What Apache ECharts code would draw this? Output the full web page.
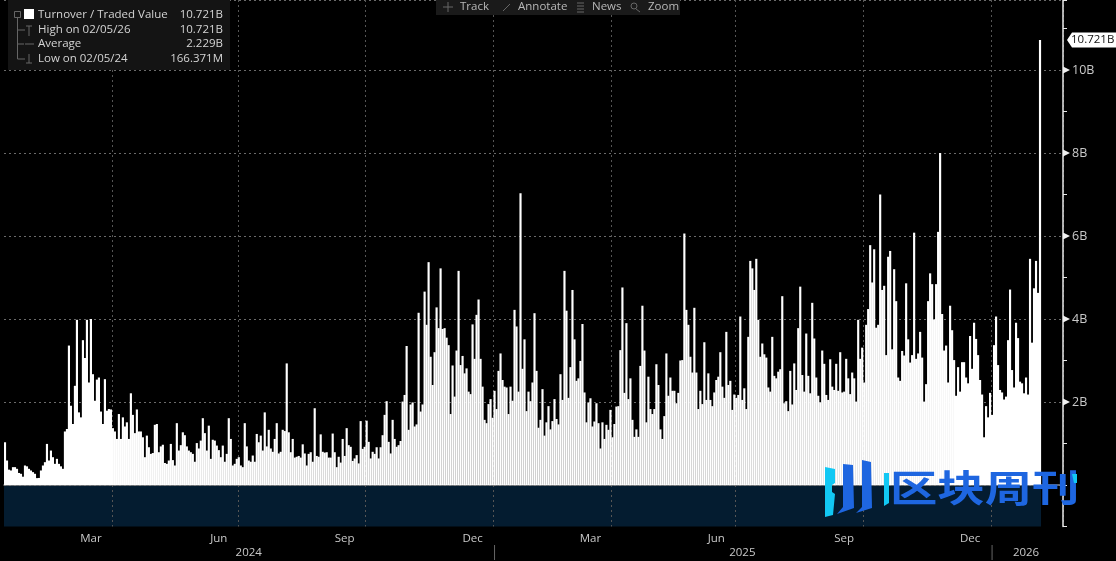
<!DOCTYPE html>
<html>
<head>
<meta charset="utf-8">
<title>Turnover / Traded Value</title>
<style>
  html, body { margin: 0; padding: 0; background: #000; }
  #chart { width: 1116px; height: 561px; }
</style>
<script src="https://cdn.jsdelivr.net/npm/echarts@6/dist/echarts.min.js"></script>
</head>
<body>
<div id="chart"></div>
<script>
// daily turnover in billions left to right
const turnover2024a = [1.03,.59,.37,.35,.43,.43,.39,.29,.27,.2,.47,.45,.39,.35,.31,.27,.166,.17,.35,.47,.55,.99,.59,.83,.67,.51,.63,.51,.45,.39,1.29,1.35,3.36,1.91,1.47,2.39,3.98,1.75,1.63,3.49,3.06,3.98,2.47,4.0,2.67,2.03,2.54,2.59,1.77,1.47,2.55,1.79,1.83,1.82,1.37,1.29,1.11,1.71,1.11,1.63,1.41,1.51,1.11,2.21,1.69,1.25,1.82,1.29,1.29,1.15,.67,1.19,.91,.75,.77,1.45,1.47,.79,.93,.97,.53,.51,.59,.99,.6,.47,1.49,.83,.96,1.27,1.2,.93,.83,.79,.75,.56,1.01,.88,1.07,1.61,1.25,.83,1.43,.63,1.09,1.07,.95,.84,.67,.95,.56,.75,1.61,1.11,.47,.51,.63,.67,.47,.43,1.49,.93,.59,.56,.71,.56,1.23,1.03,1.19,.83,1.75,.93,1.33];
const turnover2024b = [.88,.8,1.11,1.49,.76,.8,1.33,1.3,2.93,1.27,.79,1.11,.66,.68,.7,.66,.98,.76,.47,.75,.79,.56,1.85,.7,.68,1.22,.8,.78,.79,.66,.66,1.24,.79,.43,.68,.54,1.11,.7,1.37,.96,.92,.58,.64,.72,.52,1.54,.87,.92,1.55,1.04,.64,.8,.75,.91,.64,.91,1.2,1.69,2.02,1.04,.76,1.57,1.11,.92,.96,1.06,2.01,2.17,3.35,1.33,1.94,1.99,1.41,1.46,4.15,1.77,1.94,4.66,3.86,5.37,3.09,2.41,3.2,4.28,3.78,5.22,3.76,3.78,3.55,3.37,1.71,2.88,2.13,3.24,5.16,2.89,3.11,2.69,2.81,2.25,2.19,3.87,3.04,4.1,4.47,3.04,2.37,1.57,1.49,1.95,2.07,1.62,2.27,1.83,2.75,3.17,2.53,2.37,2.35,1.71,2.37,2.03,4.22,3.82,2.25,7.03,2.8,3.51,1.78,2.25];
const turnover2025a = [2.02,2.47,4.14,2.75,1.38,1.57,2.31,1.19,1.51,1.9,1.34,1.54,2.07,1.59,1.46,2.67,2.05,5.16,4.2,2.1,2.84,4.7,3.51,2.51,2.57,2.99,3.88,2.23,1.51,1.99,2.09,1.41,1.53,1.97,1.49,.88,1.51,1.11,1.45,1.33,1.81,1.15,1.47,1.89,1.9,3.25,4.76,2.22,3.9,2.07,2.57,1.57,1.16,1.34,1.16,2.87,4.32,3.24,1.51,2.61,1.83,1.71,1.83,2.91,2.41,1.34,1.11,1.66,3.17,2.15,2.59,2.27,2.27,1.97,2.22,3.0,3.01,6.06,4.22,3.86,3.09,2.71,4.27,2.71,1.83,2.27,1.95,3.44,2.05,2.69,2.05,1.9,2.23,2.53,2.61,3.2,2.37,2.1,3.69,2.41,2.51,1.81,2.18,2.1,2.17,4.06,2.05,2.33,1.83,3.57,5.4,5.22,4.7,5.45,3.98,3.09,3.41,3.15,3.07,2.35,2.25,3.57,2.63,2.57,2.73,2.79,4.55,1.97,2.02,1.78];
const turnover2025b = [2.75,1.94,2.93,2.29,3.78,4.78,2.65,2.25,3.65,2.63,2.21,4.39,3.53,2.59,2.15,1.99,3.24,2.92,2.17,2.05,3.03,2.37,2.29,2.92,2.27,3.2,2.23,2.25,3.04,2.57,2.19,2.71,2.57,2.01,3.98,3.04,3.31,2.47,3.86,4.24,5.78,4.88,5.68,3.79,3.86,7.0,4.7,4.8,3.13,5.5,5.64,3.27,5.2,4.43,2.59,2.51,3.23,3.12,4.86,3.51,2.95,3.13,6.08,3.04,3.17,3.69,3.07,2.01,2.43,4.43,5.1,4.84,3.99,4.84,6.1,8.0,4.12,3.24,3.36,2.47,4.32,3.73,3.01,2.15,2.84,2.25,2.96,2.96,2.59,2.45,3.59,2.8,3.91,3.52,3.13,2.53,2.18,1.15,1.9,1.63,2.22,1.69,3.37,4.06,2.89,2.29,2.23,2.06,2.13,3.49,4.71,2.77,2.35,3.91,3.54,2.49,2.45,2.21,2.59,2.18,5.45,3.43,4.74,5.4,4.63,10.721];
const turnover = [].concat(turnover2024a, turnover2024b, turnover2025a, turnover2025b);

// where things fall on the trading day axis
const monthStarts = [14,34,54,76,97,117,140,160,181,204,224,245,265,284,304,325,345,366,390,410,430,454,473,494,514];
const quarterStarts = [54,117,181,245,304,366,430,494];
const quarterLabels = { 43: 'Mar', 107: 'Jun', 170: 'Sep', 234: 'Dec', 293: 'Mar', 356: 'Jun', 420: 'Sep', 483: 'Dec' };
const yearLabels = { 122: '2024', 369: '2025', 511: '2026' };
const yearBreaks = [245, 494];
const majorTicks = [2, 4, 6, 8, 10];

const legendRows = [
  ['Turnover / Traded Value', '10.721B'],
  ['High on 02/05/26', '10.721B'],
  ['Average', '2.229B'],
  ['Low on 02/05/24', '166.371M']
];
const toolbarItems = ['Track', 'Annotate', 'News', 'Zoom'];

const BANDS = 530;
const categories = [];
for (let i = 0; i < BANDS; i++) categories.push(String(i));

const FONT = '"Open Sans", "Noto Sans", sans-serif';
const TXT = '#c9c9c9';

var chart = echarts.init(document.getElementById('chart'), null, { renderer: 'canvas' });

var option = {
  backgroundColor: '#000',
  animation: false,
  grid: { left: 4, right: 53, top: 0, bottom: 34.5 },
  xAxis: [
    {
      type: 'category',
      data: categories,
      axisLine: { lineStyle: { color: '#8c8c8c', width: 1.5 } },
      axisTick: {
        alignWithLabel: true, length: 3, lineStyle: { color: '#8c8c8c' },
        interval: function (i) { return monthStarts.indexOf(i) >= 0; }
      },
      axisLabel: {
        color: TXT, fontFamily: FONT, fontSize: 11.5, margin: 6,
        interval: function (i) { return quarterLabels[i] !== undefined; },
        formatter: function (v, i) { return quarterLabels[i] || ''; }
      },
      splitLine: {
        show: true,
        lineStyle: { color: '#555', type: [2, 3], width: 1 },
        interval: function (i) { return quarterStarts.indexOf(i) >= 0; }
      }
    },
    {
      type: 'category',
      data: categories,
      position: 'bottom',
      offset: 17,
      axisLine: { show: false },
      axisTick: { show: false },
      axisLabel: {
        color: TXT, fontFamily: FONT, fontSize: 11.5, margin: 3,
        interval: function (i) { return yearLabels[i] !== undefined; },
        formatter: function (v, i) { return yearLabels[i] || ''; }
      }
    }
  ],
  yAxis: {
    type: 'value',
    position: 'right',
    min: -1,
    max: 11.687,
    interval: 1,
    axisLine: { show: true, onZero: false, lineStyle: { color: '#e8e8e8', width: 1.5 } },
    axisTick: { show: true, length: 4, lineStyle: { color: '#e8e8e8' } },
    axisLabel: {
      color: TXT, fontFamily: FONT, fontSize: 12.5, margin: 9, padding: [3, 0, 0, 0],
      formatter: function (v) { return majorTicks.indexOf(v) >= 0 ? v + 'B' : ''; }
    },
    splitLine: {
      show: true,
      lineStyle: { color: ['rgba(0,0,0,0)', '#6a6a6a'], type: [2, 3], width: 1 }
    }
  },
  series: [
    {
      type: 'bar',
      data: turnover,
      barWidth: 2.15,
      itemStyle: { color: '#fff' }
    }
  ]
};
chart.setOption(option);

function onTop(kids) {
  kids.forEach(function (k) { k.z = 100; });
  return { type: 'group', children: kids };
}

// legend box, toolbar, price flag and the watermark are overlays
function legendBox() {
  var kids = [{ type: 'rect', shape: { x: 8, y: 0, width: 222, height: 70 }, style: { fill: '#141414' } }];
  var rowY = [15, 30, 44, 59];
  var grey = { stroke: '#666', lineWidth: 1 };
  [[17.5, 18, 17.5, 59], [17.5, 30, 25, 30], [17.5, 44, 24, 44], [17.5, 59, 25, 59], [29, 26, 29, 36], [26, 26, 32, 26], [25, 44, 34, 44], [29, 54, 29, 63], [26, 63, 32, 63]].forEach(function (l) {
    kids.push({ type: 'line', shape: { x1: l[0], y1: l[1], x2: l[2], y2: l[3] }, style: grey });
  });
  kids.push({ type: 'rect', shape: { x: 24, y: 9, width: 10, height: 10 }, style: { fill: '#fff' } });
  kids.push({ type: 'rect', shape: { x: 14.5, y: 11.5, width: 6, height: 6 }, style: { fill: '#141414', stroke: '#666' } });
  legendRows.forEach(function (row, i) {
    kids.push({ type: 'text', style: { x: 38, y: rowY[i], text: row[0], fill: '#d4d4d4', font: '11.5px ' + FONT, verticalAlign: 'middle' } });
    kids.push({ type: 'text', style: { x: 223, y: rowY[i], text: row[1], fill: '#d4d4d4', font: '11.5px ' + FONT, align: 'right', verticalAlign: 'middle' } });
  });
  return onTop(kids);
}

function toolbar() {
  var kids = [{ type: 'rect', shape: { x: 436, y: 0, width: 244, height: 15 }, style: { fill: '#1a1a1a' } }];
  var textX = [460, 518, 592, 648];
  var g = { stroke: '#666', lineWidth: 1, fill: 'none' };
  kids.push({ type: 'line', shape: { x1: 443, y1: 7, x2: 453, y2: 7 }, style: g });
  kids.push({ type: 'line', shape: { x1: 448, y1: 2, x2: 448, y2: 12 }, style: g });
  kids.push({ type: 'line', shape: { x1: 503, y1: 11, x2: 510, y2: 4 }, style: g });
  [3, 6, 9, 12].forEach(function (y) {
    kids.push({ type: 'line', shape: { x1: 577, y1: y, x2: 584, y2: y }, style: g });
  });
  kids.push({ type: 'circle', shape: { cx: 634, cy: 6, r: 3 }, style: g });
  kids.push({ type: 'line', shape: { x1: 636, y1: 9, x2: 640, y2: 12 }, style: g });
  toolbarItems.forEach(function (t, i) {
    kids.push({ type: 'text', style: { x: textX[i], y: 7, text: t, fill: '#b8b8b8', font: '11.5px ' + FONT, verticalAlign: 'middle' } });
  });
  return onTop(kids);
}

function axisMarks() {
  var kids = [];
  var axisX = chart.convertToPixel({ xAxisIndex: 0 }, BANDS - 1) + 1;
  majorTicks.forEach(function (v) {
    var y = chart.convertToPixel({ yAxisIndex: 0 }, v);
    kids.push({ type: 'polygon', shape: { points: [[axisX, y - 3.5], [axisX + 7, y], [axisX, y + 3.5]] }, style: { fill: '#f0f0f0' } });
  });
  var fy = chart.convertToPixel({ yAxisIndex: 0 }, turnover[turnover.length - 1]);
  kids.push({
    type: 'polygon',
    shape: { points: [[axisX + 4, fy], [axisX + 9, fy - 7.5], [1116, fy - 7.5], [1116, fy + 7.5], [axisX + 9, fy + 7.5]] },
    style: { fill: '#fff' }
  });
  kids.push({ type: 'text', style: { x: axisX + 8, y: fy, text: '10.721B', fill: '#111', font: '11.5px ' + FONT, verticalAlign: 'middle' } });
  // thin separators between the years under the month row
  yearBreaks.forEach(function (b) {
    var x = chart.convertToPixel({ xAxisIndex: 0 }, b);
    kids.push({ type: 'line', shape: { x1: x, y1: 545, x2: x, y2: 560 }, style: { stroke: '#666', lineWidth: 1 } });
  });
  return onTop(kids);
}

// navy band below zero, behind the grid lines
function navyBand() {
  var x0 = chart.convertToPixel({ xAxisIndex: 0 }, 0) - 1;
  var x1 = chart.convertToPixel({ xAxisIndex: 0 }, turnover.length - 1) + 1;
  var y0 = chart.convertToPixel({ yAxisIndex: 0 }, 0);
  var y1 = chart.convertToPixel({ yAxisIndex: 0 }, -1);
  return { type: 'rect', z: -1, shape: { x: x0, y: y0, width: x1 - x0, height: y1 - y0 }, style: { fill: '#041c30' } };
}

function watermark() {
  var blue = '#1e66e0', cyan = '#12c8f4';
  var shapes = [
    [cyan, [[825, 467], [835, 469], [835, 483], [832, 485], [832, 492], [835, 494], [833, 515], [825, 517]]],
    [blue, [[843, 464], [853, 465], [854, 508], [837, 514], [843, 507]]],
    [blue, [[862, 460], [871, 462], [872, 508], [856, 513], [862, 507]]],
    [cyan, [[884, 473], [889, 473], [889, 503], [884, 506]]]
  ];
  var kids = shapes.map(function (s) {
    return { type: 'polygon', shape: { points: s[1] }, style: { fill: s[0] } };
  });
  kids.push({
    type: 'text', x: 890, y: 488, scaleX: 1.28,
    style: { x: 0, y: 0, text: '区块周刊', fill: blue, font: 'bold 37px "Noto Sans CJK SC"', verticalAlign: 'middle' }
  });
  kids.push({ type: 'polygon', shape: { points: [[1072, 474], [1077, 474], [1077, 483], [1074, 483]] }, style: { fill: cyan } });
  return onTop(kids);
}

chart.setOption({ graphic: [navyBand(), legendBox(), toolbar(), axisMarks(), watermark()] });
</script>
</body>
</html>
